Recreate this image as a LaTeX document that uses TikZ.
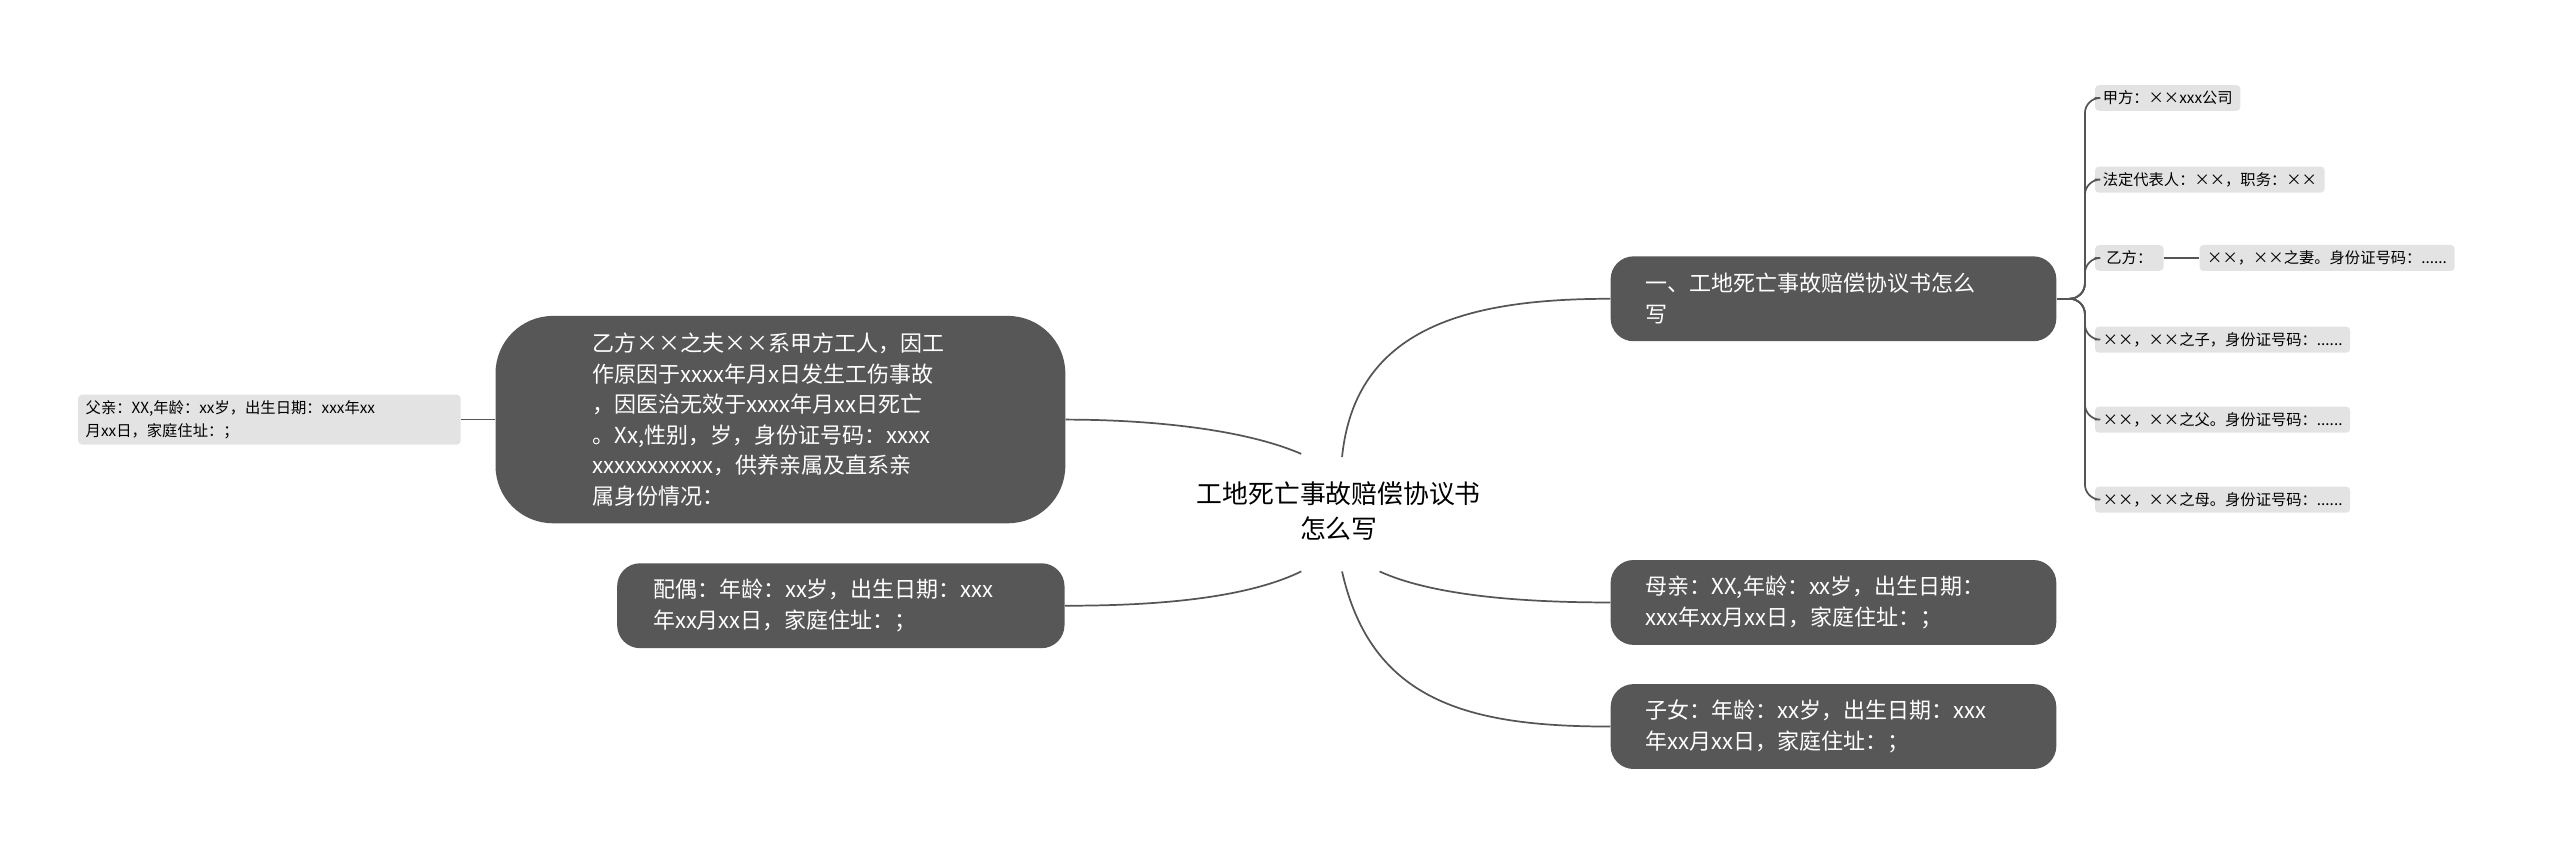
\documentclass[tikz,border=0pt]{standalone}
\usepackage{fontspec}
\setmainfont{Noto Sans CJK SC}
\usepackage{tikz}
\definecolor{darknode}{HTML}{575757}
\definecolor{leafgray}{HTML}{E3E3E3}
\definecolor{linegray}{HTML}{555555}
\tikzset{
  topic/.style={fill=darknode, text=white, rounded corners=12pt, inner xsep=10pt, inner ysep=5pt,
    align=left, font=\fontsize{11.5}{16}\selectfont},
  leaf/.style={fill=leafgray, text=black, rounded corners=2pt, inner xsep=4pt, inner ysep=3pt,
    align=left, font=\fontsize{8}{12}\selectfont},
  link/.style={linegray, line width=0.9pt},
}
\begin{document}
\begin{tikzpicture}[x=0.03cm,y=-0.03cm]
%1. 画布
\useasboundingbox (0,0) rectangle (1568,520);
%2. 中心主题
\node[font=\fontsize{13.5}{18}\selectfont, align=center] (root) at (820,313) {工地死亡事故赔偿协议书\\怎么写};
%3. 分支主题
\node[topic, minimum width=273*0.03cm, minimum height=52*0.03cm, text width=230*0.03cm] (one) at (1123,183) {一、工地死亡事故赔偿协议书怎么\\写};
\node[topic, minimum width=273*0.03cm, minimum height=52*0.03cm, text width=230*0.03cm] (mother) at (1123,369) {母亲：XX,年龄：xx岁，出生日期：\\xxx年xx月xx日，家庭住址：；};
\node[topic, minimum width=273*0.03cm, minimum height=52*0.03cm, text width=230*0.03cm] (kids) at (1123,445) {子女：年龄：xx岁，出生日期：xxx\\年xx月xx日，家庭住址：；};
\node[topic, rounded corners=30pt, minimum width=349*0.03cm, minimum height=127*0.03cm, text width=230*0.03cm] (husband) at (478,257) {乙方××之夫××系甲方工人，因工\\作原因于xxxx年月x日发生工伤事故\\，因医治无效于xxxx年月xx日死亡\\。Xx,性别，岁，身份证号码：xxxx\\xxxxxxxxxxx，供养亲属及直系亲\\属身份情况：};
\node[topic, minimum width=274*0.03cm, minimum height=52*0.03cm, text width=230*0.03cm] (spouse) at (515,371) {配偶：年龄：xx岁，出生日期：xxx\\年xx月xx日，家庭住址：；};
%4. 叶子
\node[leaf, text width=225*0.03cm] (father) at (165,257) {父亲：XX,年龄：xx岁，出生日期：xxx年xx\\月xx日，家庭住址：；};
\node[leaf, anchor=west] (jia) at (1283,60) {甲方：××xxx公司};
\node[leaf, anchor=west] (rep) at (1283,110) {法定代表人：××，职务：××};
\node[leaf, anchor=west, minimum width=42*0.03cm] (yi) at (1283,158) {乙方：};
\node[leaf, anchor=west] (wife) at (1347,158) {××，××之妻。身份证号码：......};
\node[leaf, anchor=west] (son) at (1283,208) {××，××之子，身份证号码：......};
\node[leaf, anchor=west] (dad) at (1283,257) {××，××之父。身份证号码：......};
\node[leaf, anchor=west] (mom) at (1283,306) {××，××之母。身份证号码：......};
%5. 连线
\coordinate (rootN) at (822,280);
\coordinate (rootNW) at (797,278);
\coordinate (rootSW) at (797,350);
\coordinate (rootSE) at (845,350);
\coordinate (rootS) at (822,350);
\draw[link] (rootN) .. controls (830,200) and (900,183) .. (one.west);
\draw[link] (rootNW) .. controls (760,262) and (700,257) .. (husband.east);
\draw[link] (rootSW) .. controls (760,368) and (700,371) .. (spouse.east);
\draw[link] (rootSE) .. controls (880,366) and (940,369) .. (mother.west);
\draw[link] (rootS) .. controls (840,430) and (900,445) .. (kids.west);
\draw[link] (husband.west) -- (father.east);
\draw[link] (yi.east) -- (wife.west);
\coordinate (fork) at (1270,183);
\draw[link] (one.east) -- (fork);
\foreach \leafname in {jia,rep,yi,son,dad,mom}
  \draw[link, rounded corners=8pt] (fork) -- (1277,183) |- (\leafname.west);
\end{tikzpicture}
\end{document}
